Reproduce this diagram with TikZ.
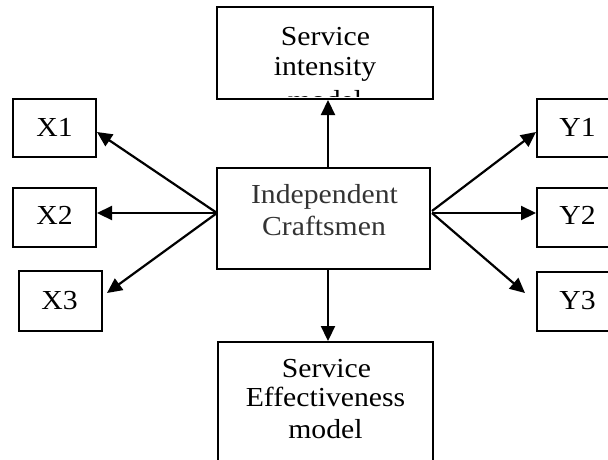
\documentclass[tikz,border=0pt]{standalone}
\usepackage{fontspec}
\setmainfont{Liberation Serif}[FakeStretch=1.08]
\usetikzlibrary{arrows.meta}
\definecolor{ctext}{HTML}{333333}
\begin{document}
\begin{tikzpicture}[x=1pt,y=1pt,
  box/.style={draw=black,line width=2pt,inner sep=0pt,minimum width=#1},
  box/.default=83pt,
  lbl/.style={anchor=base,inner sep=0pt,font=\fontsize{27.5}{30}\selectfont},
  arr/.style={line width=2.2pt,-{Triangle[length=15pt,width=14pt]}}]
\clip (0,0) rectangle (608,-459);
% boxes
\node[box=216pt,minimum height=92pt] (top) at (325,-53) {};
\node[box=213pt,minimum height=101pt] (c) at (323.5,-218.5) {};
\node[box=215pt,minimum height=160pt] (bot) at (325.5,-422) {};
\node[box,minimum height=58pt] (x1) at (54.5,-128) {};
\node[box,minimum height=59pt] (x2) at (54.5,-217.5) {};
\node[box,minimum height=60pt] (x3) at (60.5,-301) {};
\node[box,minimum height=58pt] (y1) at (578.5,-128) {};
\node[box,minimum height=59pt] (y2) at (578.5,-217.5) {};
\node[box,minimum height=59pt] (y3) at (578.5,-301.5) {};
% texts
\begin{scope}
\clip (218,-8) rectangle (432,-96.5);
\node[lbl] (t1) at (325.5,-45) {Service};
\node[lbl] (t2) at (325,-75) {intensity};
\node[lbl] (t3) at (325,-109) {model};
\end{scope}
\node[lbl,text=ctext] (c1) at (324.5,-203) {Independent};
\node[lbl,text=ctext] (c2) at (324,-235) {Craftsmen};
\node[lbl] (b1) at (326.5,-377) {Service};
\node[lbl] (b2) at (325.5,-406) {Effectiveness};
\node[lbl] (b3) at (325.5,-438) {model};
\node[lbl] (x1t) at (54.5,-136) {X1};
\node[lbl] (x2t) at (54.5,-224) {X2};
\node[lbl] (x3t) at (59.5,-309) {X3};
\node[lbl] (y1t) at (577.5,-136) {Y1};
\node[lbl] (y2t) at (577.5,-224) {Y2};
\node[lbl] (y3t) at (577.5,-309) {Y3};
% connector anchor points
\coordinate (vx) at (328,0);
\coordinate (lo) at (217,-213);
\coordinate (ro) at (432,-213);
\coordinate (x3tip) at (107,-293);
\coordinate (y3tip) at (525,-293);
% connectors
\draw[arr] (c.north -| vx) -- (top.south -| vx);
\draw[arr] (c.south -| vx) -- (bot.north -| vx);
\draw[arr] (lo) -- ([yshift=-4pt]x1.east);
\draw[arr] (lo) -- (lo -| x2.east);
\draw[arr] (lo) -- (x3tip);
\draw[arr] ([yshift=2pt]ro) -- ([yshift=-4pt]y1.west);
\draw[arr] (ro) -- (ro -| y2.west);
\draw[arr] (ro) -- (y3tip);
\end{tikzpicture}
\end{document}
